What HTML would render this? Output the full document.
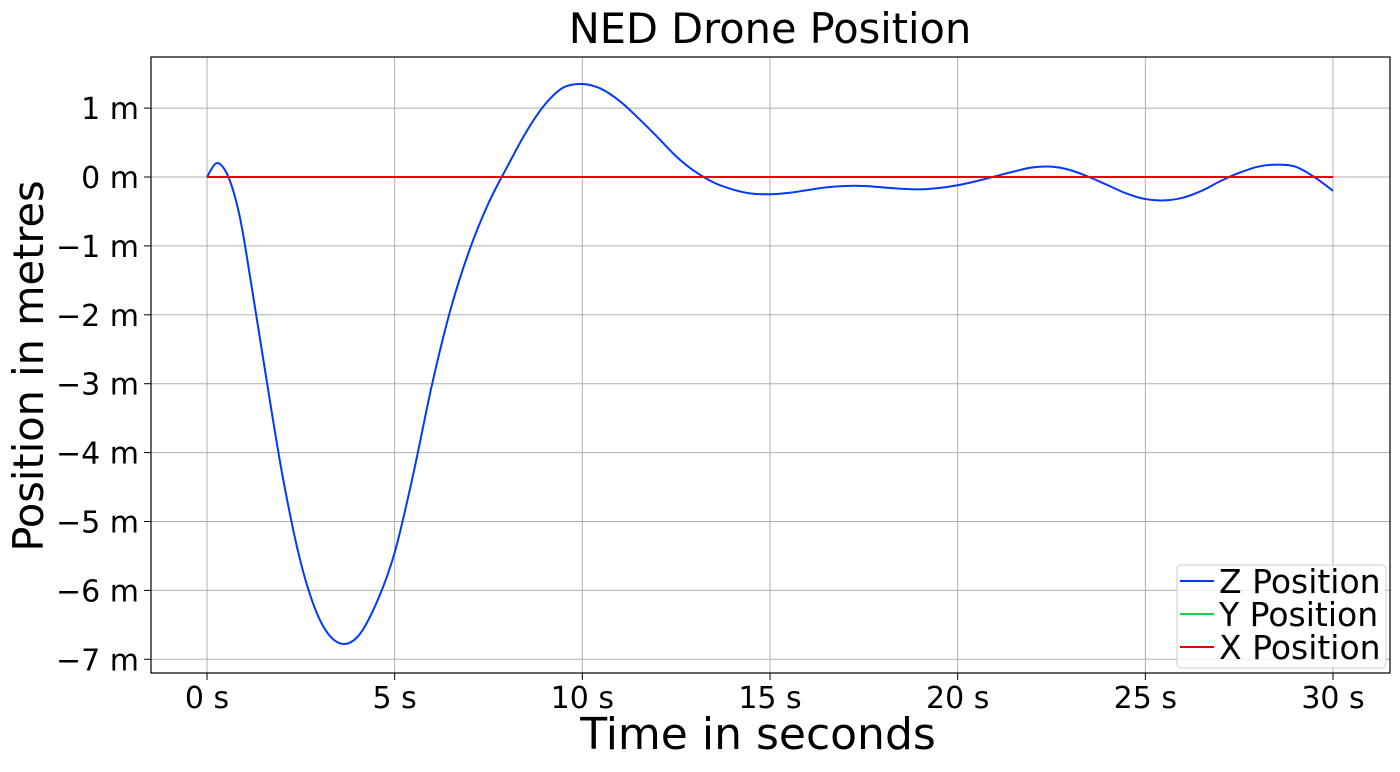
<!DOCTYPE html>
<html><head><meta charset="utf-8"><style>
body{margin:0;background:#fff;}
svg text{font-family:"DejaVu Sans","Liberation Sans",sans-serif;fill:#000;}
</style></head><body>
<svg id="chart" width="1400" height="767" xmlns="http://www.w3.org/2000/svg">
<g id="grid"></g><g id="ticks"></g><g id="series"></g>
<rect x="151" y="57" width="1239" height="616" fill="none" stroke="#000" stroke-width="1.2"/>
<text x="770" y="43" font-size="41.5" text-anchor="middle">NED Drone Position</text>
<text x="758" y="749" font-size="44" text-anchor="middle">Time in seconds</text>
<text transform="translate(43,366) rotate(-90)" font-size="41.5" text-anchor="middle">Position in metres</text>
<g>
<rect x="1177" y="565" width="209" height="103" rx="4" fill="#fff" fill-opacity="0.8" stroke="#ccc"/>
<g><line x1="1180" y1="581" x2="1214" y2="581" stroke="#0039ff" stroke-width="2"/><text x="1219" y="593" font-size="33">Z Position</text></g>
<g><line x1="1180" y1="614" x2="1214" y2="614" stroke="#1ad14a" stroke-width="2"/><text x="1219" y="626" font-size="33">Y Position</text></g>
<g><line x1="1180" y1="647" x2="1214" y2="647" stroke="#e8000b" stroke-width="2"/><text x="1219" y="659" font-size="33">X Position</text></g>
</g>
</svg>
<script>
const xTicks=[0,5,10,15,20,25,30];
const yTicks=[1,0,-1,-2,-3,-4,-5,-6,-7];
const times=[0,0.25,0.5,0.75,1,1.5,2,2.5,3,3.5,4,4.5,5,5.5,6,6.5,7,7.5,8,8.5,9,9.5,10,10.5,11,11.5,12,12.5,13,13.5,14,14.5,15,15.5,16,16.5,17,17.5,18,18.5,19,19.5,20,20.5,21,21.5,22,22.5,23,23.5,24,24.5,25,25.5,26,26.5,27,27.5,28,28.5,29,29.5,30];
const zPos=[0,0.2,0.08,-0.3,-0.95,-2.65,-4.3,-5.6,-6.42,-6.76,-6.68,-6.2,-5.45,-4.3,-3.0,-1.9,-1.05,-0.38,0.15,0.65,1.05,1.3,1.35,1.28,1.1,0.85,0.58,0.3,0.08,-0.08,-0.18,-0.24,-0.25,-0.23,-0.19,-0.15,-0.13,-0.13,-0.15,-0.17,-0.18,-0.16,-0.12,-0.06,0.01,0.08,0.14,0.15,0.1,0.0,-0.12,-0.24,-0.32,-0.34,-0.3,-0.2,-0.06,0.06,0.15,0.18,0.15,0.0,-0.2];
const yPosVals=[0,0];
const xPosVals=[0,0];
const sx=t=>207+t*(1333-207)/30;
const sy=v=>177-v*68.9;
const NS="http://www.w3.org/2000/svg";
const mk=(p,tag,a)=>{const e=document.createElementNS(NS,tag);for(const k in a)e.setAttribute(k,a[k]);document.getElementById(p).appendChild(e);return e;};
xTicks.forEach(t=>{
 const g=mk('grid','line',{x1:sx(t),x2:sx(t),y1:57,y2:673,stroke:'#b0b0b0','stroke-width':1});
 
 
 mk('ticks','line',{x1:sx(t),x2:sx(t),y1:673,y2:680,stroke:'#000'});
 const l=mk('ticks','text',{x:sx(t),y:708,'font-size':30,'text-anchor':'middle'});l.textContent=t+' s';
 
 
});
yTicks.forEach(v=>{
 const g=mk('grid','line',{x1:151,x2:1390,y1:sy(v),y2:sy(v),stroke:'#b0b0b0','stroke-width':1});
 
 
 mk('ticks','line',{x1:144,x2:151,y1:sy(v),y2:sy(v),stroke:'#000'});
 const l=mk('ticks','text',{x:139,y:sy(v)+11,'font-size':30,'text-anchor':'end'});l.textContent=(v<0?'\u2212'+(-v):v)+' m';
 
 
});
function spline(ts,vs){const P=ts.map((t,i)=>[sx(t),sy(vs[i])]);let d='M'+P[0][0]+','+P[0][1];
 for(let i=0;i<P.length-1;i++){const p0=P[Math.max(0,i-1)],p1=P[i],p2=P[i+1],p3=P[Math.min(P.length-1,i+2)];
 d+=` C${p1[0]+(p2[0]-p0[0])/6},${p1[1]+(p2[1]-p0[1])/6} ${p2[0]-(p3[0]-p1[0])/6},${p2[1]-(p3[1]-p1[1])/6} ${p2[0]},${p2[1]}`;}return d;}
const z=mk('series','path',{d:spline(times,zPos),fill:'none',stroke:'#0039ff','stroke-width':2});


const yl=mk('series','path',{d:spline([0,30],yPosVals),fill:'none',stroke:'#1ad14a','stroke-width':2});


const xl=mk('series','path',{d:spline([0,30],xPosVals),fill:'none',stroke:'#e8000b','stroke-width':2});


</script>
</body></html>
